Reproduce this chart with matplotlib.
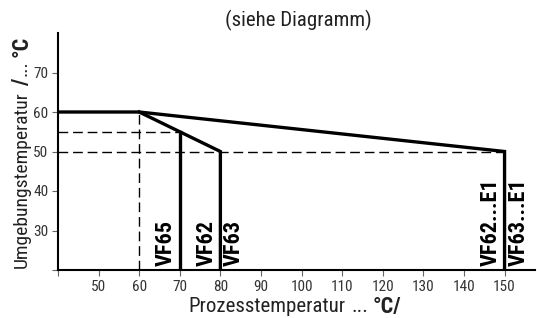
import matplotlib
matplotlib.use("Agg")
import matplotlib.pyplot as plt
from matplotlib import font_manager

names = {f.name for f in font_manager.fontManager.ttflist}
FONT = "Roboto Condensed" if "Roboto Condensed" in names else "Liberation Sans"
plt.rcParams['font.family'] = [FONT, 'DejaVu Sans']

# Data
x_ticks = [40, 50, 60, 70, 80, 90, 100, 110, 120, 130, 140, 150]
x_tick_labels = ["", "50", "60", "70", "80", "90", "100", "110", "120", "130", "140", "150"]
y_ticks = [20, 30, 40, 50, 60, 70]
y_tick_labels = ["", "30", "40", "50", "60", "70"]

# Derating curves (process temp, ambient temp)
curve_e1_x = [40, 60, 150, 150]
curve_e1_y = [60, 60, 50, 20]
curve_vf62_63_x = [60, 80, 80]
curve_vf62_63_y = [60, 50, 20]
curve_vf65_x = [70, 70]
curve_vf65_y = [55, 20]

# Dashed guide lines
guide_55_x = [40, 70]; guide_55_y = [55, 55]
guide_50_x = [40, 150]; guide_50_y = [50, 50]
guide_60_x = [60, 60]; guide_60_y = [20, 60]

labels = [("VF65", 70, "right"), ("VF62", 80, "right"), ("VF63", 80, "left"),
          ("VF62...E1", 150, "right"), ("VF63...E1", 150, "left")]

W, H = 537, 318
fig = plt.figure(figsize=(W/100, H/100), dpi=100)
ax = fig.add_axes([58/W, 48/H, (535-58)/W, (270-33)/H])
ax.set_xlim(40, 157.5)
ax.set_ylim(20, 80)

lw_thick = 2.4
dash = dict(color="black", lw=1.0, dashes=(7, 3.5))
ax.plot(guide_55_x, guide_55_y, **dash)
ax.plot(guide_50_x, guide_50_y, **dash)
ax.plot(guide_60_x, guide_60_y, **dash)
ax.plot(curve_e1_x, curve_e1_y, color="black", lw=lw_thick, solid_joinstyle="miter")
ax.plot(curve_vf62_63_x, curve_vf62_63_y, color="black", lw=lw_thick, solid_joinstyle="miter")
ax.plot(curve_vf65_x, curve_vf65_y, color="black", lw=lw_thick)

for text, xv, side in labels:
    off = -0.7 if side == "right" else 0.7
    ax.text(xv + off, 21.0, text, rotation=90, fontsize=16, fontweight="bold",
            ha=side, va="bottom", color="black")

for s in ["top", "right"]:
    ax.spines[s].set_visible(False)
for s in ["left", "bottom"]:
    ax.spines[s].set_linewidth(1.5)

ax.set_xticks(x_ticks)
ax.set_xticklabels(x_tick_labels)
ax.set_yticks(y_ticks)
ax.set_yticklabels(y_tick_labels)
ax.tick_params(direction="out", length=4, width=0.8, colors="#666666", labelsize=11,
               labelcolor="#333333", pad=3)

fig.text(298/W, 1 - 20/H, "(siehe Diagramm)", fontsize=15, ha="center", va="center",
         color="#222222")

fig.canvas.draw()
r = fig.canvas.get_renderer()

# x label pieces, placed one after another
xpos = 188
yc = 1 - 305/H
for s, fs, fw, gap in [("Prozesstemperatur", 15, "normal", 6), ("...", 15, "normal", 5),
                       ("°C/", 16, "bold", 0)]:
    t = fig.text(xpos/W, yc, s, fontsize=fs, fontweight=fw, ha="left", va="center_baseline",
                 color="#222222")
    bb = t.get_window_extent(r)
    xpos = bb.x1 + gap

# y label pieces, placed bottom to top
ypos = 268
xc = 22/W
for s, fs, fw, gap in [("Umgebungstemperatur", 14, "normal", 5), ("/", 16, "bold", 3),
                       ("...", 14, "normal", 3), ("°C", 16, "bold", 0)]:
    t = fig.text(xc, 1 - ypos/H, s, fontsize=fs, fontweight=fw, rotation=90,
                 ha="center", va="bottom", color="#222222")
    bb = t.get_window_extent(r)
    ypos = H - bb.y1 - gap

fig.savefig("out.png", dpi=100)
